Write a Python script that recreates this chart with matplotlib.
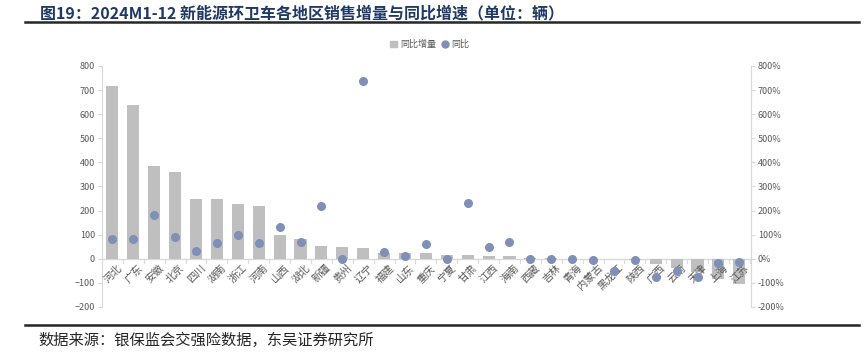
import matplotlib.pyplot as plt
from matplotlib.lines import Line2D
from matplotlib.patches import Patch
import numpy as np

plt.rcParams['font.family'] = ['Noto Sans CJK SC', 'DejaVu Sans']

regions = ['河北', '广东', '安徽', '北京', '四川', '湖南', '浙江', '河南', '山西', '湖北',
           '新疆', '贵州', '辽宁', '福建', '山东', '重庆', '宁夏', '甘肃', '江西', '海南',
           '西藏', '吉林', '青海', '内蒙古', '黑龙江', '陕西', '广西', '云南', '天津', '上海', '江苏']
increase = [717, 637, 387, 362, 250, 250, 229, 221, 97, 82,
            54, 50, 43, 26, 24, 22, 17, 14, 12, 10,
            3, 2, 1, 1, -2, -4, -20, -40, -54, -85, -105]
yoy = [82, 82, 183, 89, 33, 65, 99, 65, 133, 68,
       221, 1, 737, 29, 12, 60, 0, 233, 49, 68,
       0, 0, 0, -7, -50, -5, -74, -50, -74, -18, -15]

bar_color = '#bfbfbf'
dot_color = '#7f8fb5'
axis_color = '#d9d9d9'
text_color = '#595959'

fig = plt.figure(figsize=(8.68, 3.61), dpi=100)
ax = fig.add_axes([0.1175, 0.1496, 0.7475, 0.6676])
ax2 = ax.twinx()

x = np.arange(len(regions))
ax.bar(x, increase, width=0.58, color=bar_color, zorder=2)
ax2.scatter(x, np.array(yoy) / 100, s=30, color=dot_color, zorder=3)

ax.set_xlim(-0.5, len(regions) - 0.45)
ax.set_ylim(-200, 800)
ax.set_yticks(range(-200, 801, 100))
ax2.set_ylim(-2, 8)
ax2.set_yticks(np.arange(-2, 8.01, 1))
ax2.set_yticklabels([f'{int(round(v * 100))}%' for v in np.arange(-2, 8.01, 1)])

for a in (ax, ax2):
    a.spines['top'].set_visible(False)
    a.spines['bottom'].set_visible(False)
    a.spines['left'].set_color(axis_color)
    a.spines['right'].set_color(axis_color)
    a.tick_params(axis='y', colors=text_color, labelsize=6.5, length=3, width=0.8,
                  color=axis_color, pad=2)
ax.tick_params(axis='x', bottom=False, labelbottom=False)
ax2.spines['left'].set_visible(False)

# category axis drawn at zero
ax.axhline(0, color=axis_color, lw=1, zorder=1)
for b in np.arange(-0.5, len(regions), 1):
    ax.plot([b, b], [0, -18], color=axis_color, lw=0.8, clip_on=False, zorder=1)
for i, name in enumerate(regions):
    ax.text(i + 0.2, -16, name, rotation=45, rotation_mode='anchor', ha='right', va='top',
            fontsize=7.5, color=text_color)

handles = [Patch(color=bar_color, label='同比增量'),
           Line2D([], [], marker='o', ls='', color=dot_color, markersize=5, label='同比')]
fig.legend(handles=handles, loc='center', bbox_to_anchor=(0.495, 0.876), ncol=2, frameon=False,
           fontsize=6.5, labelcolor=text_color, handlelength=0.8, handletextpad=0.3,
           columnspacing=0.6)

fig.text(0.046, 0.985, '图19：2024M1-12 新能源环卫车各地区销售增量与同比增速（单位：辆）',
         fontsize=11.5, fontweight='bold', color='#1f3864', ha='left', va='top')
fig.add_artist(Line2D([0.029, 0.99], [0.939, 0.939], color='#262626', lw=1.8))
fig.add_artist(Line2D([0.029, 0.99], [0.1, 0.1], color='#262626', lw=1.8))
fig.text(0.044, 0.057, '数据来源：银保监会交强险数据，东吴证券研究所', fontsize=11,
         color='#262626', ha='left', va='center')

fig.savefig('out.png', dpi=100)
